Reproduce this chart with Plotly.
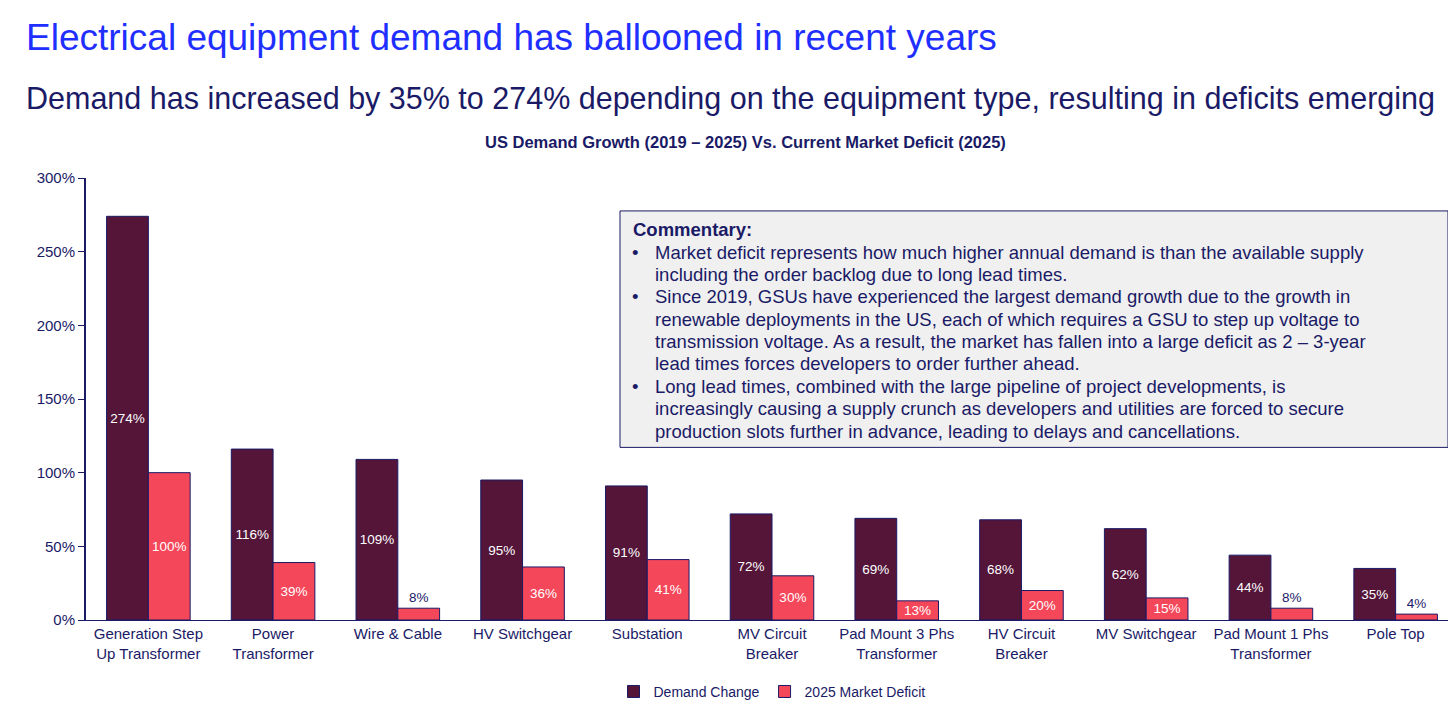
import plotly.graph_objects as go

categories = ["Generation Step<br>Up Transformer", "Power<br>Transformer", "Wire & Cable", "HV Switchgear",
              "Substation", "MV Circuit<br>Breaker", "Pad Mount 3 Phs<br>Transformer", "HV Circuit<br>Breaker",
              "MV Switchgear", "Pad Mount 1 Phs<br>Transformer", "Pole Top"]
demand_change = [274, 116, 109, 95, 91, 72, 69, 68, 62, 44, 35]
market_deficit = [100, 39, 8, 36, 41, 30, 13, 20, 15, 8, 4]

commentary_lines = [
    ("", "<b>Commentary:</b>"),
    ("•", "Market deficit represents how much higher annual demand is than the available supply"),
    ("", "including the order backlog due to long lead times."),
    ("•", "Since 2019, GSUs have experienced the largest demand growth due to the growth in"),
    ("", "renewable deployments in the US, each of which requires a GSU to step up voltage to"),
    ("", "transmission voltage. As a result, the market has fallen into a large deficit as 2 – 3-year"),
    ("", "lead times forces developers to order further ahead."),
    ("•", "Long lead times, combined with the large pipeline of project developments, is"),
    ("", "increasingly causing a supply crunch as developers and utilities are forced to secure"),
    ("", "production slots further in advance, leading to delays and cancellations."),
]

navy = "#1a1a66"
dark = "#541539"
red = "#f5475a"

# plot area in pixels: x 78..1450, y 178..621
def px_x(p):
    return (p - 78) / 1372

def px_y(p):
    return (621 - p) / 443

def positions(vals):
    return ["outside" if v < 10 else "inside" for v in vals]

def colors(vals):
    return [navy if v < 10 else "white" for v in vals]

fig = go.Figure()
fig.add_bar(x=categories, y=demand_change, name="Demand Change", marker=dict(color=dark, line=dict(color=navy, width=1)),
            text=[f"{v}%" for v in demand_change], textposition=positions(demand_change),
            insidetextanchor="middle", textfont=dict(color=colors(demand_change), size=13.5), cliponaxis=False)
fig.add_bar(x=categories, y=market_deficit, name="2025 Market Deficit", marker=dict(color=red, line=dict(color=navy, width=1)),
            text=[f"{v}%" for v in market_deficit], textposition=positions(market_deficit),
            insidetextanchor="middle", textfont=dict(color=colors(market_deficit), size=13.5), cliponaxis=False)

annotations = [
    dict(text="Electrical equipment demand has ballooned in recent years", xref="paper", yref="paper",
         x=px_x(16), y=px_y(37), xanchor="left", yanchor="middle", showarrow=False,
         font=dict(size=37, color="#1f2fff")),
    dict(text="Demand has increased by 35% to 274% depending on the equipment type, resulting in deficits emerging",
         xref="paper", yref="paper", x=px_x(16), y=px_y(98), xanchor="left", yanchor="middle", showarrow=False,
         font=dict(size=30.5, color=navy)),
    dict(text="<b>US Demand Growth (2019 – 2025) Vs. Current Market Deficit (2025)</b>", xref="paper", yref="paper",
         x=px_x(737), y=px_y(142), xanchor="center", yanchor="middle", showarrow=False, font=dict(size=16.5, color=navy)),
]
for i, (bullet, line) in enumerate(commentary_lines):
    yy = px_y(230 + i * 22.4)
    if bullet:
        annotations.append(dict(text=bullet, xref="paper", yref="paper", x=px_x(622), y=yy, xanchor="left",
                                yanchor="middle", showarrow=False, font=dict(size=18.5, color=navy)))
    annotations.append(dict(text=line, xref="paper", yref="paper", x=px_x(623 if i == 0 else 645), y=yy,
                            xanchor="left", yanchor="middle", showarrow=False, font=dict(size=18.5, color=navy)))

fig.update_layout(
    width=1456, height=706, barmode="group", bargap=0.33, bargroupgap=0,
    plot_bgcolor="white", paper_bgcolor="white",
    font=dict(family="Liberation Sans, Arial", color=navy, size=14),
    margin=dict(l=78, r=6, t=170, b=76),
    uniformtext=dict(minsize=13, mode="show"),
    yaxis=dict(range=[0, 300], dtick=50, ticksuffix="%", showgrid=False, showline=True, linecolor=navy,
               linewidth=2, ticks="outside", ticklen=6, tickcolor=navy, zeroline=False, tickfont=dict(size=15)),
    xaxis=dict(showline=True, linecolor=navy, linewidth=1, ticks="", tickfont=dict(size=15)),
    legend=dict(orientation="h", x=0.5, xanchor="center", y=px_y(677), yanchor="top", font=dict(size=14),
                itemwidth=30),
    shapes=[dict(type="rect", xref="paper", yref="paper", x0=px_x(612), x1=px_x(1440), y0=px_y(448), y1=px_y(211),
                 fillcolor="#f0f0f0", line=dict(color=navy, width=1), layer="above")],
    annotations=annotations,
)

fig.write_html("out.html")
